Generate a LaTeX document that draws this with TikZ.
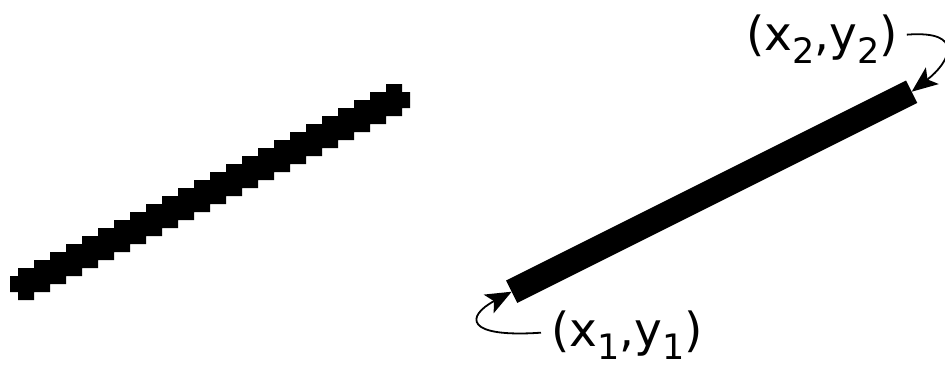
\documentclass[tikz,border=0pt]{standalone}
\usepackage{fontspec}
\setmainfont{DejaVu Sans}
\usetikzlibrary{arrows.meta}
\newcommand{\sbx}[1]{\raisebox{-13pt}{\fontsize{35}{35}\selectfont #1}}
\begin{document}
\begin{tikzpicture}[x=1pt,y=-1pt,
  lbl/.style={inner sep=0pt, outer sep=0pt, anchor=base west, font=\fontsize{47}{50}\selectfont},
  pointer/.style={line width=1.8pt, -{Stealth[length=26pt,width=21pt,inset=6pt]}},
  bar/.style={line width=25pt}]
\useasboundingbox (0,0) rectangle (945,367);
% rasterised line
\fill (10,276) rectangle (18,292)
  foreach \k in {1,...,24} { (2+16*\k, 276-8*\k) rectangle ++(16,32) }
  (402,92) rectangle (410,108);
% ideal line
\coordinate (p1) at (511.7,291.7);
\coordinate (p2) at (911.7,91.7);
\draw[bar] (p1) -- (p2);
\node[lbl] (t2) at (746,50) {(x\sbx{2},y\sbx{2})};
\node[lbl] (t1) at (551,346) {(x\sbx{1},y\sbx{1})};
\draw[pointer] ([shift={(9,-4)}]t2.east) .. controls (966,30) and (950,62) .. (p2);
\draw[pointer] ([shift={(-10,-2)}]t1.west) .. controls (464,338) and (466,316) .. (p1);
\end{tikzpicture}
\end{document}
